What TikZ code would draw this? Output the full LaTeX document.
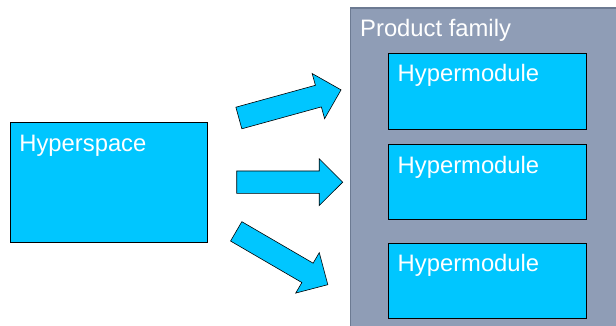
\documentclass[tikz,border=0pt]{standalone}
\usepackage{fontspec}
\setmainfont{Liberation Sans}
\definecolor{cyanfill}{RGB}{0,198,255}
\definecolor{famfill}{RGB}{143,157,182}
\definecolor{famdraw}{RGB}{108,122,146}
\tikzset{
  cbox/.style={draw=black, line width=0.8pt, fill=cyanfill, anchor=north west, inner sep=0pt},
  lbl/.style={text=white, font=\fontsize{23.8}{26}\selectfont, anchor=base west, inner sep=0pt},
  blockarrow/.style={fill=cyanfill, draw=black, line width=0.6pt, line join=miter}
}
\begin{document}
\begin{tikzpicture}[x=1pt,y=-1pt]
\useasboundingbox (0,0) rectangle (616,325);
\clip (0,0) rectangle (616,325);
\fill[white] (0,0) rectangle (616,325);
% product family container
\node[draw=famdraw, line width=1.6pt, fill=famfill, anchor=north west, inner sep=0pt,
      minimum width=280pt, minimum height=330pt] (fam) at (349.5,7) {};
\node[lbl] (famlbl) at (360,36.7) {Product family};
% hypermodules
\node[cbox, minimum width=197.7pt, minimum height=76pt] (m1) at (388,53) {};
\node[lbl] (m1lbl) at (397.5,81.7) {Hypermodule};
\node[cbox, minimum width=197.7pt, minimum height=75pt] (m2) at (388,144) {};
\node[lbl] (m2lbl) at (397.5,173.3) {Hypermodule};
\node[cbox, minimum width=197.7pt, minimum height=75pt] (m3) at (388,242.7) {};
\node[lbl] (m3lbl) at (397.5,271.7) {Hypermodule};
% hyperspace
\node[cbox, minimum width=196.7pt, minimum height=120pt] (hs) at (10,121.7) {};
\node[lbl] (hslbl) at (19.2,151.7) {Hyperspace};
% block arrows
\foreach \sx/\sy/\ang in {238.85/118/15.4, 236.7/182.15/0, 236.2/231.35/-30.2}{
  \begin{scope}[shift={(\sx,\sy)}, rotate=\ang]
    \draw[blockarrow] (0,-11.2) -- (82.5,-11.2) -- (82.5,-23.4) -- (106,0)
      -- (82.5,23.4) -- (82.5,11.2) -- (0,11.2) -- cycle;
  \end{scope}
}
\end{tikzpicture}
\end{document}
